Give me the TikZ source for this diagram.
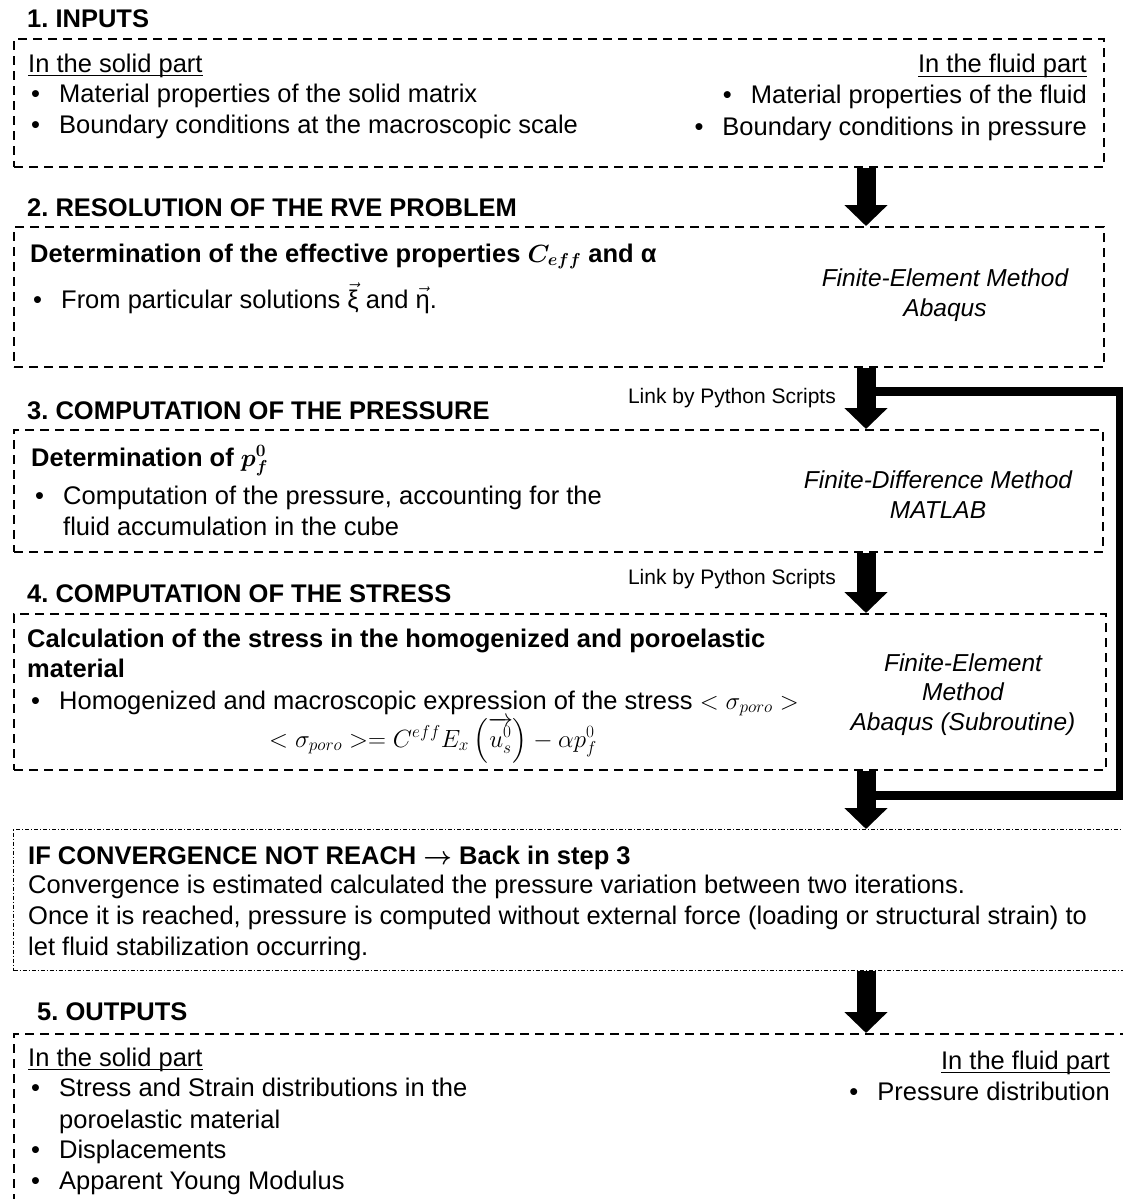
\documentclass[tikz,border=0pt]{standalone}
\usepackage{amsmath}
\usepackage{bm}
\usepackage{fontspec}
\setmainfont{Liberation Sans}
\usepackage{tikz}
\usetikzlibrary{arrows.meta}

\newcommand{\bitem}{\makebox[28pt][l]{\textbullet}}
\newcommand{\undl}[1]{\setbox0\hbox{#1}\rlap{\rule[-4pt]{\wd0}{1.4pt}}\box0}

\tikzset{
  stepbox/.style={draw, line width=2.3pt, dash pattern=on 9pt off 6pt, inner sep=0pt, anchor=north west},
  convbox/.style={draw, line width=1pt, dash pattern=on 4pt off 2pt on 1pt off 2pt, inner sep=0pt, anchor=north west},
  hd/.style={anchor=base west, inner sep=0pt, font=\bfseries},
  txt/.style={anchor=base west, inner sep=0pt},
  rtxt/.style={anchor=base east, inner sep=0pt},
  tool/.style={anchor=base, align=center, inner sep=0pt, font=\itshape\fontsize{24.5}{29.5}\selectfont},
  link/.style={anchor=base east, inner sep=0pt, font=\fontsize{21}{25}\selectfont},
  bigarrow/.style={line width=19pt, -{Triangle[width=42pt,length=21pt]}},
  loopline/.style={line width=9pt, line join=miter}
}

\begin{document}
\frenchspacing
\fontsize{25.5}{31}\selectfont
\begin{tikzpicture}[x=1pt,y=1pt,yscale=-1,xscale=1]
\path[use as bounding box] (0,0) rectangle (1123,1199);
\clip (0,0) rectangle (1123,1199);

%Shape: Rectangle [inputs]
\node[stepbox, minimum width=1090pt, minimum height=128pt] (inbox) at (13,38) {};
%Shape: Rectangle [rve]
\node[stepbox, minimum width=1090pt, minimum height=140pt] (rvebox) at (13,226) {};
%Shape: Rectangle [pressure]
\node[stepbox, minimum width=1089pt, minimum height=122pt] (presbox) at (13,429) {};
%Shape: Rectangle [stress]
\node[stepbox, minimum width=1092pt, minimum height=156pt] (stressbox) at (13,613) {};
%Shape: Rectangle [convergence]
\node[convbox, minimum width=1125pt, minimum height=141pt] (convbox) at (13,829) {};
%Shape: Rectangle [outputs]
\node[stepbox, minimum width=1125pt, minimum height=200pt] (outbox) at (13,1033) {};

\coordinate (ax) at (866,0);
\coordinate (lpt) at (1120,391.5);
\coordinate (lpb) at (1120,795);

%Straight Lines [loop back]
\draw[loopline] (ax |- lpt) -- (lpt) -- (lpb) -- (ax |- lpb);
%Straight Lines [steps]
\draw[bigarrow] (inbox.south -| ax) -- (rvebox.north -| ax);
\draw[bigarrow] (rvebox.south -| ax) -- (presbox.north -| ax);
\draw[bigarrow] (presbox.south -| ax) -- (stressbox.north -| ax);
\draw[bigarrow] (stressbox.south -| ax) -- (convbox.north -| ax);
\draw[bigarrow] (convbox.south -| ax) -- (outbox.north -| ax);

% Text Node
\node[hd] (t1) at (27,28) {1. INPUTS};
\node[txt] (in1) at (28,72) {\undl{In the solid part}};
\node[txt] (in2) at (31,102) {\bitem Material properties of the solid matrix};
\node[txt] (in3) at (31,133) {\bitem Boundary conditions at the macroscopic scale};
\node[rtxt] (in4) at (1087,73) {\undl{In the fluid part}};
\node[rtxt] (in5) at (1087,103) {\bitem Material properties of the fluid};
\node[rtxt] (in6) at (1087,135) {\bitem Boundary conditions in pressure};

% Text Node
\node[hd] (t2) at (27,216) {2. RESOLUTION OF THE RVE PROBLEM};
\node[hd] (rv1) at (30,262) {Determination of the effective properties $\bm{C_{eff}}$ and α};
\node[txt] (rv2) at (33,308) {\bitem From particular solutions $\vec{\text{ξ}}$ and $\vec{\text{η}}$.};
\node[tool] (rv3) at (945,316) {Finite-Element Method\\Abaqus};
\node[link] (lk1) at (836,403) {Link by Python Scripts};

% Text Node
\node[hd] (t3) at (27,419) {3. COMPUTATION OF THE PRESSURE};
\node[hd] (pr1) at (31,466) {Determination of $\bm{p_f^0}$};
\node[txt] (pr2) at (35,504) {\bitem Computation of the pressure, accounting for the};
\node[txt] (pr3) at (63,535) {fluid accumulation in the cube};
\node[tool] (pr4) at (938,518) {Finite-Difference Method\\MATLAB};
\node[link] (lk2) at (836,584) {Link by Python Scripts};

% Text Node
\node[hd] (t4) at (27,602) {4. COMPUTATION OF THE STRESS};
\node[hd] (st1) at (27,647) {Calculation of the stress in the homogenized and poroelastic};
\node[hd] (st2) at (27,677) {material};
\node[txt] (st3) at (31,709) {\bitem Homogenized and macroscopic expression of the stress $<\sigma_{poro}>$};
\node[anchor=base, inner sep=0pt] (st4) at (433,747) {$<\sigma_{poro}>= C^{eff}E_x\left(\overrightarrow{u_s^0}\right)-\alpha p_f^0$};
\node[tool] (st5) at (963,730) {Finite-Element\\Method\\Abaqus (Subroutine)};

% Text Node
\node[hd] (cv1) at (28,864) {IF CONVERGENCE NOT REACH $\bm{\rightarrow}$ Back in step 3};
\node[txt] (cv2) at (28,893) {Convergence is estimated calculated the pressure variation between two iterations.};
\node[txt] (cv3) at (28,924) {Once it is reached, pressure is computed without external force (loading or structural strain) to};
\node[txt] (cv4) at (28,955) {let fluid stabilization occurring.};

% Text Node
\node[hd] (t5) at (37,1020) {5. OUTPUTS};
\node[txt] (ou1) at (28,1066) {\undl{In the solid part}};
\node[txt] (ou2) at (31,1096) {\bitem Stress and Strain distributions in the};
\node[txt] (ou3) at (59,1128) {poroelastic material};
\node[txt] (ou4) at (31,1158) {\bitem Displacements};
\node[txt] (ou5) at (31,1189) {\bitem Apparent Young Modulus};
\node[rtxt] (ou6) at (1110,1069) {\undl{In the fluid part}};
\node[rtxt] (ou7) at (1110,1100) {\bitem Pressure distribution};

\end{tikzpicture}
\end{document}
